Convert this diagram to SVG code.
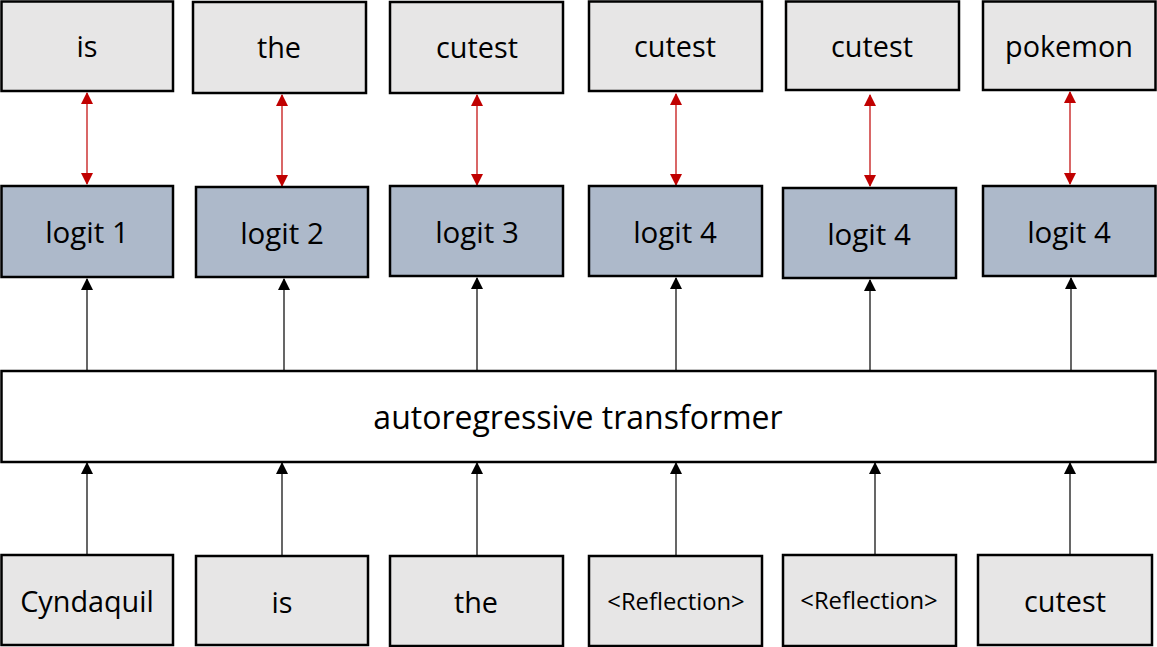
<svg xmlns="http://www.w3.org/2000/svg" width="1157" height="647" viewBox="0 0 1157 647">
<style>
.tok{fill:#E7E6E6;stroke:#000;stroke-width:2.5}
.lg{fill:#ADB9CA;stroke:#000;stroke-width:2.5}
.tf{fill:#fff;stroke:#000;stroke-width:2.5}
text{font-family:"Open Sans","Noto Sans",sans-serif;font-size:28.8px;fill:#000;text-anchor:middle}
text.lt{font-size:29.5px}
text.big{font-size:32px}
text.sm{font-size:23.8px}
.bl{stroke:#000;stroke-width:1.2;fill:none;marker-end:url(#ab)}
.rd{stroke:#C00000;stroke-width:1.2;fill:none;marker-start:url(#ar);marker-end:url(#ar)}
</style>
<defs>
<marker id="ab" markerUnits="userSpaceOnUse" markerWidth="12" markerHeight="12" refX="11" refY="6" orient="auto" viewBox="0 0 12 12"><path d="M0,0 L12,6 L0,12 z" fill="#000"/></marker>
<marker id="ar" markerUnits="userSpaceOnUse" markerWidth="12" markerHeight="12" refX="11" refY="6" orient="auto-start-reverse" viewBox="0 0 12 12"><path d="M0,0 L12,6 L0,12 z" fill="#C00000"/></marker>
</defs>
<rect width="1157" height="647" fill="#fff"/>
<g id="connectors">
<line class="rd" x1="87" y1="93" x2="87" y2="184"/>
<line class="rd" x1="282" y1="95" x2="282" y2="186"/>
<line class="rd" x1="477" y1="95" x2="477" y2="185"/>
<line class="rd" x1="676" y1="94" x2="676" y2="185"/>
<line class="rd" x1="870" y1="95" x2="870" y2="186"/>
<line class="rd" x1="1070" y1="92" x2="1070" y2="184"/>
<line class="bl" x1="87" y1="371" x2="87" y2="279"/>
<line class="bl" x1="284" y1="371" x2="284" y2="279"/>
<line class="bl" x1="477" y1="371" x2="477" y2="278"/>
<line class="bl" x1="676" y1="371" x2="676" y2="278"/>
<line class="bl" x1="870" y1="371" x2="870" y2="280"/>
<line class="bl" x1="1071" y1="371" x2="1071" y2="278"/>
<line class="bl" x1="87" y1="555" x2="87" y2="463"/>
<line class="bl" x1="282" y1="556" x2="282" y2="463"/>
<line class="bl" x1="477" y1="556" x2="477" y2="463"/>
<line class="bl" x1="676" y1="556" x2="676" y2="463"/>
<line class="bl" x1="875" y1="555" x2="875" y2="463"/>
<line class="bl" x1="1070" y1="555" x2="1070" y2="463"/>
</g>
<g id="out1"><rect class="tok" x="1.5" y="1.5" width="171.5" height="89.5"/><text x="87" y="57">is</text></g>
<g id="out2"><rect class="tok" x="193" y="2" width="173" height="91"/><text x="279" y="58">the</text></g>
<g id="out3"><rect class="tok" x="390" y="2" width="173" height="91"/><text x="477" y="58">cutest</text></g>
<g id="out4"><rect class="tok" x="589" y="1.5" width="173" height="89.5"/><text x="675" y="57">cutest</text></g>
<g id="out5"><rect class="tok" x="786" y="1.5" width="173" height="88.5"/><text x="872" y="57">cutest</text></g>
<g id="out6"><rect class="tok" x="983" y="1.5" width="172.5" height="88.5"/><text x="1069" y="57">pokemon</text></g>
<g id="logit1"><rect class="lg" x="1.5" y="186" width="171.5" height="91"/><text class="lt" x="87" y="243">logit 1</text></g>
<g id="logit2"><rect class="lg" x="196" y="187" width="172" height="90"/><text class="lt" x="282" y="244">logit 2</text></g>
<g id="logit3"><rect class="lg" x="390" y="186" width="173" height="90"/><text class="lt" x="477" y="243">logit 3</text></g>
<g id="logit4a"><rect class="lg" x="589" y="186" width="173" height="90"/><text class="lt" x="675" y="243">logit 4</text></g>
<g id="logit4b"><rect class="lg" x="783" y="188" width="173" height="90"/><text class="lt" x="869" y="245">logit 4</text></g>
<g id="logit4c"><rect class="lg" x="983" y="186" width="172.5" height="90"/><text class="lt" x="1069" y="243">logit 4</text></g>
<g id="transformer"><rect class="tf" x="1.5" y="371" width="1154" height="91"/><text class="big" x="578" y="429">autoregressive transformer</text></g>
<g id="in1"><rect class="tok" x="1.5" y="555" width="171.5" height="90"/><text x="87" y="612">Cyndaquil</text></g>
<g id="in2"><rect class="tok" x="196" y="556" width="172" height="89"/><text x="282" y="613">is</text></g>
<g id="in3"><rect class="tok" x="390" y="556" width="173" height="90"/><text x="476" y="613">the</text></g>
<g id="in4"><rect class="tok" x="589" y="556" width="173" height="90"/><text class="sm" x="676" y="610">&lt;Reflection&gt;</text></g>
<g id="in5"><rect class="tok" x="783" y="555" width="173" height="91"/><text class="sm" x="869" y="609">&lt;Reflection&gt;</text></g>
<g id="in6"><rect class="tok" x="978" y="555" width="174" height="90"/><text x="1065" y="612">cutest</text></g>
</svg>
